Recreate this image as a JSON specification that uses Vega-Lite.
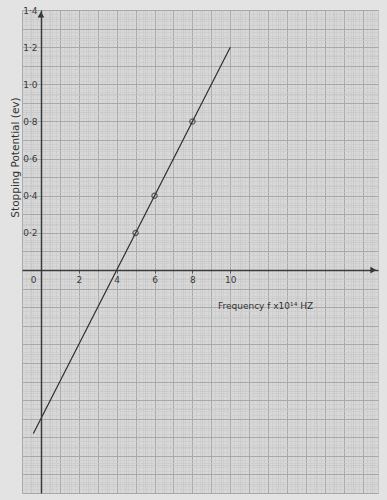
{
  "$schema": "https://vega.github.io/schema/vega-lite/v6.json",
  "width": 356,
  "height": 483,
  "autosize": {"type": "none"},
  "padding": {"left": 22, "top": 10, "right": 9, "bottom": 7},
  "background": "#e3e3e3",
  "config": {
    "view": {"fill": "#d8d8d8", "stroke": "#b4b4b4", "strokeWidth": 1},
    "font": "DejaVu Sans"
  },
  "datasets": {
    "fit": [
      {"f": -0.4, "v": -0.88},
      {"f": 10.0, "v": 1.2}
    ],
    "measured": [
      {"f": 5, "v": 0.2},
      {"f": 6, "v": 0.4},
      {"f": 8, "v": 0.8}
    ]
  },
  "resolve": {"axis": {"x": "independent", "y": "independent"}},
  "layer": [
    {
      "data": {"name": "fit"},
      "mark": {"type": "line", "color": "#2e2e2e", "strokeWidth": 1.2},
      "encoding": {
        "x": {
          "field": "f", "type": "quantitative",
          "scale": {"domain": [-1, 17.8], "nice": false, "zero": false},
          "axis": {"orient": "top", "grid": true, "tickCount": 94, "gridColor": "#cacaca", "gridWidth": 0.6, "labels": false, "ticks": false, "domain": false, "title": null}
        },
        "y": {
          "field": "v", "type": "quantitative",
          "scale": {"domain": [-1.2, 1.4], "nice": false, "zero": false},
          "axis": {"orient": "right", "grid": true, "tickCount": 130, "gridColor": "#cacaca", "gridWidth": 0.6, "labels": false, "ticks": false, "domain": false, "title": null}
        }
      }
    },
    {
      "data": {"name": "measured"},
      "mark": {"type": "point", "shape": "circle", "filled": false, "color": "#2a2a2a", "strokeWidth": 1.2, "size": 28},
      "encoding": {
        "x": {
          "field": "f", "type": "quantitative",
          "axis": {"orient": "top", "grid": true, "tickCount": 38, "gridColor": "#bdbdbd", "gridWidth": 0.7, "gridDash": [2, 1], "labels": false, "ticks": false, "domain": false, "title": null}
        },
        "y": {
          "field": "v", "type": "quantitative",
          "axis": {"orient": "right", "grid": true, "tickCount": 52, "gridColor": "#bdbdbd", "gridWidth": 0.7, "gridDash": [2, 1], "labels": false, "ticks": false, "domain": false, "title": null}
        }
      }
    },
    {
      "data": {"values": [{}]},
      "mark": {"type": "point", "shape": "triangle-up", "filled": true, "color": "#333333", "size": 45, "opacity": 1},
      "encoding": {
        "x": {
          "datum": 0, "type": "quantitative",
          "axis": {"orient": "top", "grid": true, "tickCount": 19, "gridColor": "#a8a8a8", "gridWidth": 1, "labels": false, "ticks": false, "domain": false, "title": null}
        },
        "y": {
          "datum": 1.375, "type": "quantitative",
          "axis": {"orient": "right", "grid": true, "tickCount": 26, "gridColor": "#a8a8a8", "gridWidth": 1, "labels": false, "ticks": false, "domain": false, "title": null}
        }
      }
    },
    {
      "data": {"values": [{}]},
      "mark": {"type": "point", "shape": "triangle-right", "filled": true, "color": "#333333", "size": 45, "opacity": 1},
      "encoding": {
        "x": {
          "datum": 17.55, "type": "quantitative",
          "axis": {
            "orient": "bottom", "offset": -223, "zindex": 1,
            "values": [0, 2, 4, 6, 8, 10],
            "grid": false, "domain": true, "domainColor": "#3a3a3a", "domainWidth": 1.5,
            "ticks": true, "tickSize": 3, "tickColor": "#555555",
            "labelFont": "DejaVu Sans", "labelFontSize": 9, "labelColor": "#3a3a3a", "labelPadding": 2, "labelFlush": false,
            "labelAlign": {"condition": {"test": "datum.value == 0", "value": "right"}, "value": "center"},
            "labelOffset": {"condition": {"test": "datum.value == 0", "value": -5}, "value": 0},
            "title": "Frequency  f x10¹⁴ HZ",
            "titleFont": "DejaVu Sans", "titleFontSize": 9, "titleFontWeight": "normal", "titleColor": "#333333",
            "titleX": 243, "titleY": 35, "titleAlign": "center", "titleBaseline": "middle"
          }
        },
        "y": {
          "datum": 0, "type": "quantitative",
          "axis": {
            "orient": "left", "offset": -19, "zindex": 1,
            "values": [0.2, 0.4, 0.6, 0.8, 1.0, 1.2, 1.4],
            "grid": false, "domain": true, "domainColor": "#3a3a3a", "domainWidth": 1.5,
            "ticks": false,
            "labelExpr": "replace(format(datum.value, '.1f'), '.', '·')",
            "labelFont": "DejaVu Sans", "labelFontSize": 9, "labelColor": "#3a3a3a", "labelPadding": 4, "labelFlush": false,
            "title": "Stopping Potential (ev)",
            "titleFont": "DejaVu Sans", "titleFontSize": 10.5, "titleFontWeight": "normal", "titleColor": "#333333",
            "titleX": -26, "titleY": 147, "titleAlign": "center", "titleBaseline": "middle", "titleAngle": 270
          }
        }
      }
    }
  ]
}
